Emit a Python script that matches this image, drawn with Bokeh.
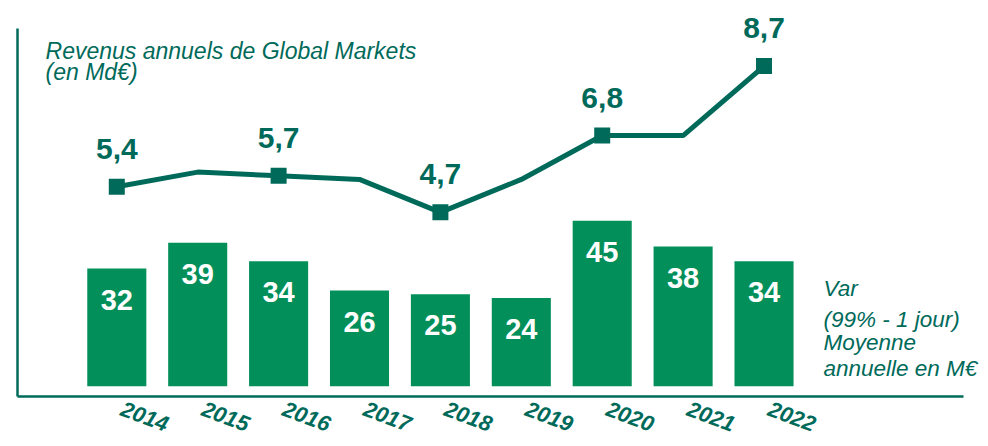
from bokeh.plotting import figure
from bokeh.models import Range1d, ColumnDataSource
from bokeh.core.properties import value
from bokeh.embed import file_html
from bokeh.resources import INLINE

# ---- data ----
years = ["2014", "2015", "2016", "2017", "2018", "2019", "2020", "2021", "2022"]
var_values = [32, 39, 34, 26, 25, 24, 45, 38, 34]          # VaR (M€)
revenues = [5.4, 5.8, 5.7, 5.6, 4.7, 5.6, 6.8, 6.8, 8.7]   # Global Markets revenues (Md€)
marked_years = ["2014", "2016", "2018", "2020", "2022"]
marked_revenues = [5.4, 5.7, 4.7, 6.8, 8.7]
marked_labels = ["5,4", "5,7", "4,7", "6,8", "8,7"]
var_labels = [str(v) for v in var_values]

title_lines = ["Revenus annuels de Global Markets", "(en Md€)"]
side_lines = ["Var", "(99% - 1 jour)", "Moyenne", "annuelle en M€"]

TEAL = "#006A5A"
GREEN = "#028F5A"
FONT = "Liberation Sans"

# ---- layout (data-space frame geometry) ----
X_RANGE = (-1.4376, 10.676)
Y_RANGE = (-14.23, 104.92)     # VaR axis
REV_RANGE = (-1.486, 10.494)   # revenue axis
AX_LEFT, AX_RIGHT = -1.2274, 10.466
AX_BOTTOM, AX_TOP = -2.8, 97.31
YEAR_Y = -8.24
TITLE_X, TITLE_Y = -0.881, [91.05, 85.34]
SIDE_X, SIDE_Y = 8.735, [26.58, 18.18, 11.88, 4.82]

xs = list(range(len(years)))
mx = [years.index(y) for y in marked_years]

p = figure(width=980, height=438, x_range=Range1d(*X_RANGE), y_range=Range1d(*Y_RANGE),
           output_backend="svg", toolbar_location=None,
           x_axis_location=None, y_axis_location=None,
           min_border=0)
p.extra_y_ranges = {"rev": Range1d(*REV_RANGE)}
p.grid.visible = False
p.outline_line_color = None
p.background_fill_color = "white"
p.border_fill_color = "white"

# axis lines
p.segment(x0=[AX_LEFT, AX_LEFT], y0=[AX_BOTTOM, AX_BOTTOM], x1=[AX_LEFT, AX_RIGHT], y1=[AX_TOP, AX_BOTTOM],
          line_color=TEAL, line_width=2.5)

# bars
bar_src = ColumnDataSource(dict(x=xs, top=var_values, lab=var_labels, yr=years,
                                yy=[YEAR_Y] * len(xs)))
p.vbar(x="x", top="top", bottom=0, width=0.73, source=bar_src, fill_color=GREEN, line_color=None)
p.text(x="x", y="top", text="lab", source=bar_src, text_align="center", text_baseline="alphabetic",
       y_offset=31, text_color="white", text_font=value(FONT), text_font_style="bold",
       text_font_size="29px")

# year labels
p.text(x="x", y="yy", text="yr", source=bar_src, text_align="center", text_baseline="middle",
       x_offset=28, angle=-0.36, text_color=TEAL, text_font=value(FONT),
       text_font_style="bold italic", text_font_size="22px")

# line
line_src = ColumnDataSource(dict(x=xs, y=revenues))
p.line(x="x", y="y", source=line_src, y_range_name="rev", line_color=TEAL, line_width=5)
mk_src = ColumnDataSource(dict(x=mx, y=marked_revenues, lab=marked_labels))
p.scatter(x="x", y="y", source=mk_src, y_range_name="rev", marker="square", size=16,
          fill_color=TEAL, line_color=None)
p.text(x="x", y="y", text="lab", source=mk_src, y_range_name="rev",
       text_align="center", text_baseline="alphabetic", y_offset=-38,
       text_color=TEAL, text_font=value(FONT), text_font_style="bold", text_font_size="30px")

# texts
p.text(x=[TITLE_X] * len(title_lines), y=TITLE_Y, text=title_lines, text_color=TEAL,
       text_font=value(FONT), text_font_style="italic", text_font_size="23px",
       text_baseline="alphabetic")
p.text(x=[SIDE_X] * len(side_lines), y=SIDE_Y, text=side_lines, text_color=TEAL,
       text_font=value(FONT), text_font_style="italic", text_font_size="22.5px",
       text_baseline="alphabetic")

open("out.html", "w").write(file_html(p, INLINE))
